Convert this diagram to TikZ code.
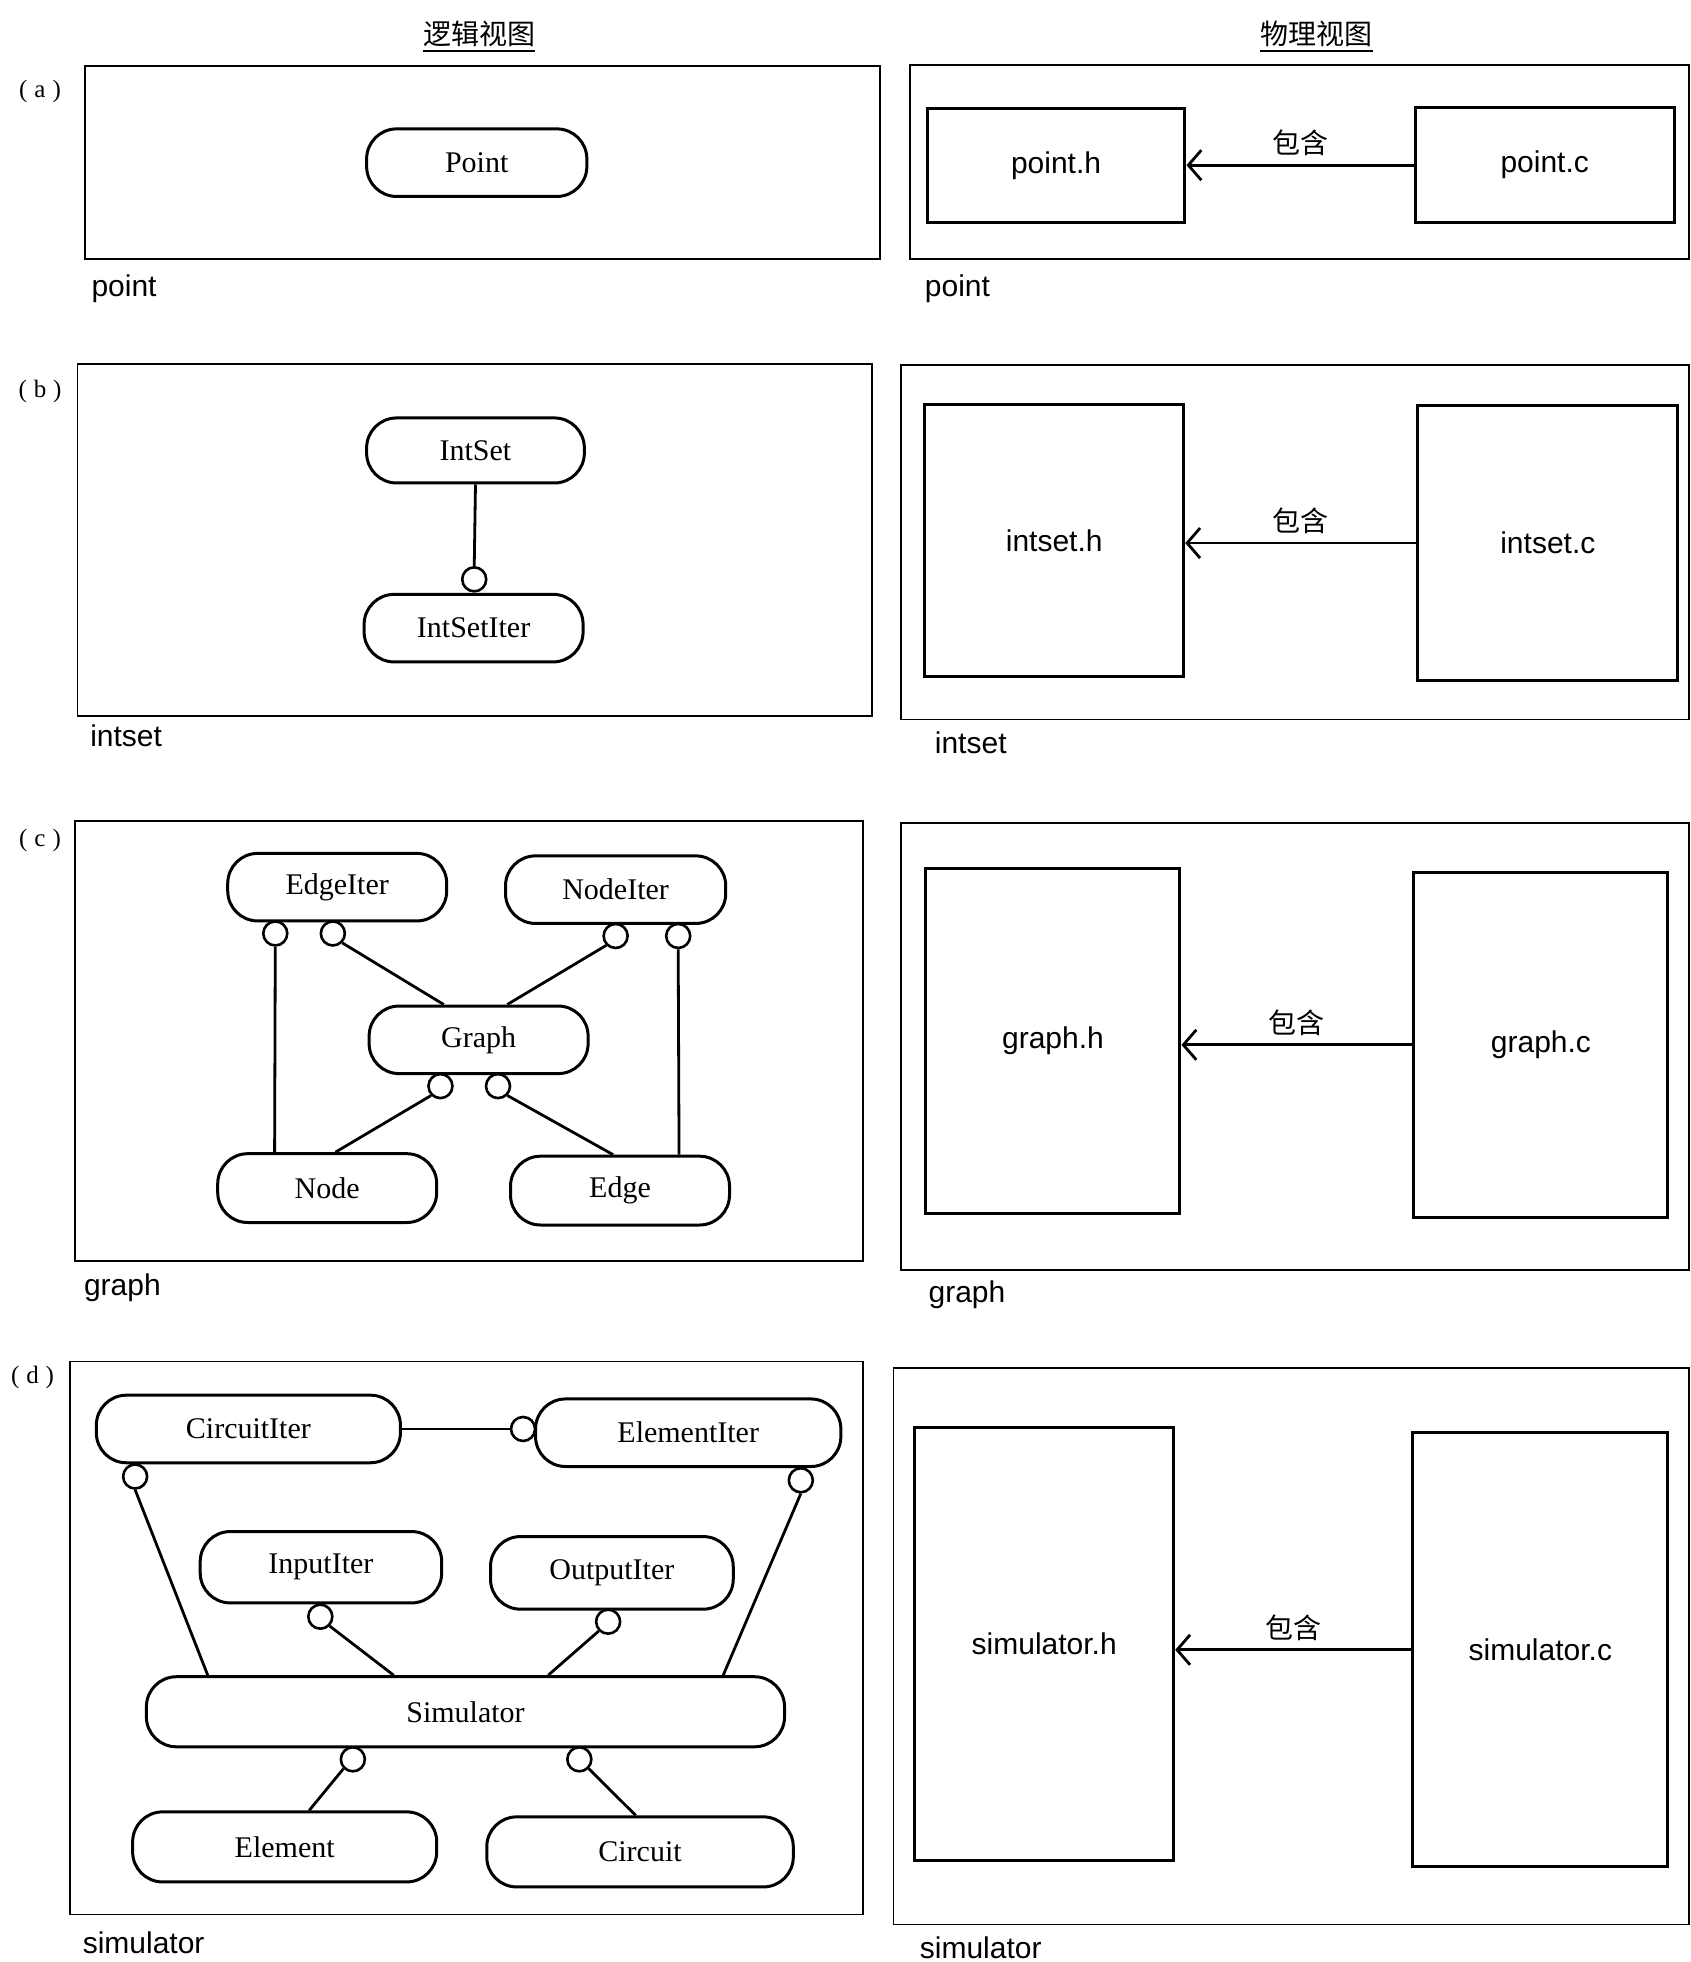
\documentclass[tikz,border=0pt]{standalone}
\usepackage{fontspec}
\setmainfont{Liberation Serif}
\newfontfamily\sansf{Liberation Sans}
\newfontfamily\cjk{Noto Sans CJK SC}
\usetikzlibrary{fit,calc,arrows.meta}
\begin{document}
\begin{tikzpicture}[x=1.2516pt,y=-1.2516pt,
  stad/.style={draw, line width=3pt, rounded corners=30pt, inner sep=0pt},
  stadtext/.style={font=\fontsize{30}{36}\selectfont, inner sep=0pt},
  filebox/.style={draw, line width=3pt, inner sep=0pt},
  filetext/.style={font=\sansf\fontsize{30}{36}\selectfont, inner sep=0pt},
  frame/.style={draw, line width=1.8pt, inner sep=0pt},
  iface/.style={circle, draw, fill=white, line width=2.6pt, minimum size=24pt, inner sep=0pt},
  conn/.style={line width=2.8pt},
  incl/.style={line width=2.8pt, -{Straight Barb[length=13pt,width=30pt,line width=2.8pt]}},
  incllab/.style={font=\cjk\fontsize{28}{30}\selectfont, inner sep=2pt},
  pkglab/.style={anchor=west, font=\sansf\fontsize{30}{36}\selectfont, inner sep=0pt},
  panlab/.style={font=\fontsize{25}{28}\selectfont, inner sep=0pt},
  title/.style={font=\cjk\fontsize{28}{30}\selectfont, inner sep=0pt}]
\useasboundingbox (0,0) rectangle (1351,1568);

% titles
\node[title] (t1) at (383,27) {逻辑视图};
\node[title] (t2) at (1052,27) {物理视图};
\draw[line width=1.6pt] ([yshift=-4pt]t1.south west) -- ([yshift=-4pt]t1.south east);
\draw[line width=1.6pt] ([yshift=-4pt]t2.south west) -- ([yshift=-4pt]t2.south east);

% ---------- (a)
\node[panlab] (la) at (32,73) {(\;a\;)};
\node[frame, fit={(68,53)(703,207)}] (fal) {};
\node[stad, fit={(293,103)(469,157)}, label={[stadtext]center:Point}] (point) {};
\node[pkglab] (pal) at (73,231) {point};
\node[frame, fit={(727,52)(1350,207)}] (far) {};
\node[filebox, fit={(741,87)(947,178)}, label={[filetext]center:point.h}] (ph) {};
\node[filebox, fit={(1131,86)(1338,178)}, label={[filetext]center:point.c}] (pc) {};
\draw[incl] (pc.west) -- node[incllab, above=6pt] {包含} (pc.west -| ph.east);
\node[pkglab] (par) at (739,231) {point};

% ---------- (b)
\node[panlab] (lb) at (32,313) {(\;b\;)};
\node[frame, fit={(62,291)(697,572)}] (fbl) {};
\node[stad, fit={(293,334)(467,386)}, label={[stadtext]center:IntSet}] (intset) {};
\node[stad, fit={(291,475)(466,529)}, label={[stadtext]center:IntSetIter}] (intsetiter) {};
\node[iface] (ib1) at (379,463) {};
\draw[conn] (intset.south) -- (ib1.north);
\node[pkglab] (pbl) at (72,588) {intset};
\node[frame, fit={(720,292)(1350,575)}] (fbr) {};
\node[filebox, fit={(739,323)(946,541)}, label={[filetext]center:intset.h}] (ih) {};
\node[filebox, fit={(1133,324)(1341,544)}, label={[filetext]center:intset.c}] (ic) {};
\draw[incl] (ic.west) -- node[incllab, above=6pt] {包含} (ic.west -| ih.east);
\node[pkglab] (pbr) at (747,594) {intset};

% ---------- (c)
\node[panlab] (lc) at (32,672) {(\;c\;)};
\node[frame, fit={(60,656)(690,1008)}] (fcl) {};
\node[stad, fit={(182,682)(357,736)}, label={[stadtext]center:EdgeIter}] (edgeiter) {};
\node[stad, fit={(404,684)(580,738)}, label={[stadtext]center:NodeIter}] (nodeiter) {};
\node[stad, fit={(295,804)(470,858)}, label={[stadtext]center:Graph}] (graph) {};
\node[stad, fit={(174,922)(349,977)}, label={[stadtext]center:Node}] (node) {};
\node[stad, fit={(408,924)(583,979)}, label={[stadtext]center:Edge}] (edge) {};
\node[iface] (ic1) at (220,746) {};
\node[iface] (ic2) at (266,746) {};
\node[iface] (ic3) at (492,748) {};
\node[iface] (ic4) at (542,748) {};
\node[iface] (ic5) at (352,868) {};
\node[iface] (ic6) at (398,868) {};
\draw[conn] (ic1.south) -- ($(node.north west)!0.263!(node.north east)$);
\draw[conn] (ic2.south east) -- ($(graph.north west)!0.343!(graph.north east)$);
\draw[conn] (ic3.south west) -- ($(graph.north west)!0.629!(graph.north east)$);
\draw[conn] (ic4.south) -- ($(edge.north west)!0.766!(edge.north east)$);
\draw[conn] (ic5.south west) -- ($(node.north west)!0.537!(node.north east)$);
\draw[conn] (ic6.south east) -- ($(edge.north west)!0.469!(edge.north east)$);
\node[pkglab] (pcl) at (67,1029) {graph};
\node[frame, fit={(720,658)(1350,1015)}] (fcr) {};
\node[filebox, fit={(740,694)(943,970)}, label={[filetext]center:graph.h}] (gh) {};
\node[filebox, fit={(1130,697)(1333,973)}, label={[filetext]center:graph.c}] (gc) {};
\draw[incl] (gc.west) -- node[incllab, above=6pt] {包含} (gc.west -| gh.east);
\node[pkglab] (pcr) at (742,1035) {graph};

% ---------- (d)
\node[panlab] (ld) at (26,1101) {(\;d\;)};
\node[frame, fit={(56,1088)(690,1530)}] (fdl) {};
\node[stad, fit={(77,1115)(320,1169)}, label={[stadtext]center:CircuitIter}] (circuititer) {};
\node[stad, fit={(428,1118)(672,1172)}, label={[stadtext]center:ElementIter}] (elementiter) {};
\node[stad, fit={(160,1224)(353,1281)}, label={[stadtext]center:InputIter}] (inputiter) {};
\node[stad, fit={(392,1228)(586,1286)}, label={[stadtext]center:OutputIter}] (outputiter) {};
\node[stad, fit={(117,1340)(627,1396)}, label={[stadtext]center:Simulator}] (simulator) {};
\node[stad, fit={(106,1448)(349,1504)}, label={[stadtext]center:Element}] (element) {};
\node[stad, fit={(389,1452)(634,1508)}, label={[stadtext]center:Circuit}] (circuit) {};
\node[iface] (id0) at (418,1142) {};
\node[iface] (id1) at (108,1180) {};
\node[iface] (id2) at (640,1183) {};
\node[iface] (id3) at (256,1292) {};
\node[iface] (id4) at (486,1296) {};
\node[iface] (id5) at (282,1406) {};
\node[iface] (id6) at (463,1406) {};
\draw[conn] (circuititer.east) -- (id0.west);
\draw[conn] (id1.south) -- ($(simulator.north west)!0.098!(simulator.north east)$);
\draw[conn] (id2.south) -- ($(simulator.north west)!0.902!(simulator.north east)$);
\draw[conn] (id3.south east) -- ($(simulator.north west)!0.388!(simulator.north east)$);
\draw[conn] (id4.south west) -- ($(simulator.north west)!0.629!(simulator.north east)$);
\draw[conn] (id5.south west) -- ($(element.north west)!0.58!(element.north east)$);
\draw[conn] (id6.south east) -- ($(circuit.north west)!0.486!(circuit.north east)$);
\node[pkglab] (pdl) at (66,1553) {simulator};
\node[frame, fit={(714,1093)(1350,1538)}] (fdr) {};
\node[filebox, fit={(731,1141)(938,1487)}, label={[filetext]center:simulator.h}] (sh) {};
\node[filebox, fit={(1129,1145)(1333,1492)}, label={[filetext]center:simulator.c}] (sc) {};
\draw[incl] (sc.west) -- node[incllab, above=6pt] {包含} (sc.west -| sh.east);
\node[pkglab] (pdr) at (735,1557) {simulator};
\end{tikzpicture}
\end{document}
